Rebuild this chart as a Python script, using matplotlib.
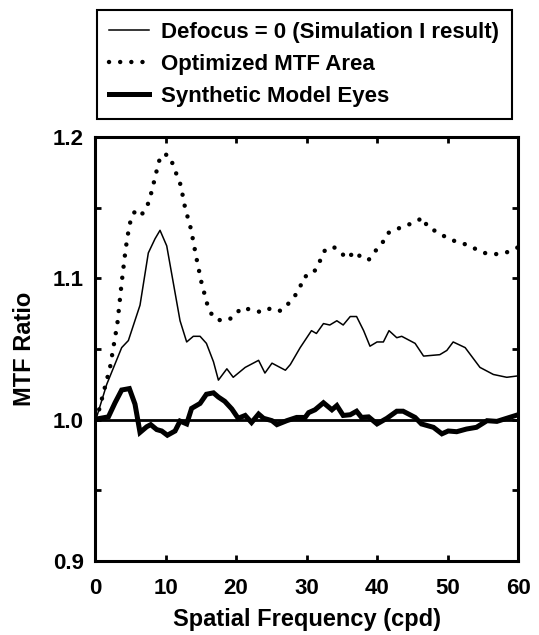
import numpy as np
import matplotlib
matplotlib.use("Agg")
import matplotlib.pyplot as plt
from matplotlib.ticker import MultipleLocator

plt.rcParams['font.family'] = ['Liberation Sans', 'DejaVu Sans']
plt.rcParams['font.weight'] = 'bold'

# Defocus = 0 (Simulation I result)
freq_defocus = [0.0, 0.24, 1.66, 3.78, 4.73, 6.38, 7.56, 8.51, 9.22, 10.17, 12.06, 13.0, 13.94, 14.9,
                15.8, 16.8, 17.5, 18.7, 19.6, 21.3, 23.2, 24.1, 25.1, 27.0, 27.7, 29.1, 30.7,
                31.4, 32.4, 33.3, 34.3, 35.2, 36.2, 37.1, 38.1, 39.0, 40.0, 40.9, 41.7, 42.8,
                43.5, 45.4, 46.6, 48.9, 49.9, 50.8, 52.5, 54.6, 56.5, 58.4, 60.0]
mtf_defocus = [1.0, 1.002, 1.025, 1.051, 1.056, 1.081, 1.118, 1.128, 1.134, 1.123, 1.070, 1.055, 1.059, 1.059,
               1.054, 1.041, 1.028, 1.036, 1.030, 1.037, 1.042, 1.033, 1.040, 1.035, 1.039, 1.051, 1.063,
               1.061, 1.068, 1.067, 1.070, 1.067, 1.073, 1.073, 1.063, 1.052, 1.055, 1.055, 1.063, 1.058,
               1.059, 1.054, 1.045, 1.046, 1.049, 1.055, 1.051, 1.037, 1.032, 1.030, 1.031]

# Optimized MTF Area
freq_optim = [0.0, 0.47, 2.13, 3.17, 3.78, 4.35, 4.82, 5.2, 5.77, 6.6, 7.4, 7.9, 8.3, 8.65, 8.98, 9.6,
              10.5, 11.1, 11.6, 12.15, 12.77, 13.6, 14.4, 15.1, 15.9, 16.5, 17.3, 18.9, 19.9, 20.7,
              22.1, 23.6, 25.0, 26.3, 27.4, 28.4, 29.1, 29.6, 30.8, 31.7, 32.2, 32.8, 33.9, 34.75,
              35.7, 36.9, 37.7, 38.8, 39.7, 40.75, 41.5, 42.55, 43.7, 45.1, 46.5, 47.2, 48.5, 49.8,
              51.2, 52.6, 53.9, 55.2, 56.6, 58.2, 59.6, 60.0]
mtf_optim = [1.0, 1.005, 1.037, 1.068, 1.097, 1.121, 1.136, 1.144, 1.148, 1.145, 1.151, 1.159, 1.167, 1.174, 1.182, 1.188,
             1.187, 1.180, 1.173, 1.166, 1.150, 1.135, 1.114, 1.097, 1.082, 1.075, 1.0705, 1.0705, 1.074, 1.079,
             1.078, 1.076, 1.079, 1.077, 1.082, 1.088, 1.094, 1.101, 1.103, 1.109, 1.117, 1.121, 1.122, 1.119,
             1.114, 1.119, 1.115, 1.113, 1.119, 1.125, 1.132, 1.134, 1.137, 1.139, 1.143, 1.136, 1.133, 1.129,
             1.126, 1.124, 1.121, 1.118, 1.117, 1.118, 1.121, 1.122]

# Synthetic Model Eyes
freq_model = [0.0, 0.24, 1.9, 2.84, 3.78, 4.87, 5.67, 6.38, 7.33, 7.9, 8.75, 9.46, 10.26, 11.35, 12.06, 13.0,
              13.7, 14.9, 15.8, 16.8, 17.5, 18.4, 19.4, 20.3, 21.3, 22.2, 23.2, 23.9, 25.1, 25.8, 27.2,
              28.6, 29.8, 30.3, 31.2, 32.4, 33.6, 34.3, 35.2, 36.2, 37.1, 37.8, 38.8, 40.0, 41.4, 42.8,
              43.7, 45.4, 46.3, 48.0, 49.2, 50.1, 51.3, 52.7, 54.1, 55.6, 57.0, 58.4, 60.0]
mtf_model = [1.0, 1.0005, 1.002, 1.012, 1.021, 1.022, 1.011, 0.991, 0.995, 0.9965, 0.993, 0.992, 0.989, 0.992, 0.999, 0.997,
             1.008, 1.0115, 1.018, 1.019, 1.016, 1.013, 1.0076, 1.001, 1.003, 0.998, 1.004, 1.001, 0.9993, 0.9965, 0.9993,
             1.0016, 1.0016, 1.005, 1.007, 1.012, 1.007, 1.010, 1.003, 1.0035, 1.006, 1.0016, 1.002, 0.997, 1.001, 1.006,
             1.006, 1.0016, 0.997, 0.9946, 0.990, 0.992, 0.9915, 0.9934, 0.9946, 0.9993, 0.9988, 1.001, 1.0035]

fig = plt.figure(figsize=(5.39, 6.35), dpi=100)
ax = fig.add_axes([0.1763, 0.1165, 0.7848, 0.6677])

ax.axhline(1.0, color='black', lw=2.0, zorder=1)
l1, = ax.plot(freq_defocus, mtf_defocus, color='black', lw=1.1)
l2, = ax.plot(freq_optim, mtf_optim, color='black', lw=3.2, linestyle=(0, (0.01, 2.5)),
              dash_capstyle='round')
l3, = ax.plot(freq_model, mtf_model, color='black', lw=3.6, solid_joinstyle='miter')

ax.set_xlim(0, 60)
ax.set_ylim(0.9, 1.2)
ax.xaxis.set_major_locator(MultipleLocator(10))
ax.yaxis.set_major_locator(MultipleLocator(0.1))
ax.yaxis.set_minor_locator(MultipleLocator(0.05))
ax.tick_params(which='both', direction='in', top=True, right=True, width=2, labelsize=16)
ax.tick_params(which='major', length=4)
ax.tick_params(which='minor', length=4)
ax.tick_params(axis='x', pad=12)
ax.tick_params(axis='y', pad=8)
ax.yaxis.set_major_formatter(matplotlib.ticker.FormatStrFormatter('%.1f'))
for s in ax.spines.values():
    s.set_linewidth(2.2)

ax.set_xlabel('Spatial Frequency (cpd)', fontsize=17, fontweight='bold', labelpad=7)
ax.set_ylabel('MTF Ratio', fontsize=17, fontweight='bold', labelpad=12)

leg = fig.legend([l1, l2, l3],
                 ['Defocus = 0 (Simulation I result)', 'Optimized MTF Area', 'Synthetic Model Eyes'],
                 loc='upper left', bbox_to_anchor=(0.18, 0.985), borderaxespad=0,
                 fontsize=16, fancybox=False,
                 edgecolor='black', framealpha=1, handlelength=1.8, borderpad=0.55,
                 labelspacing=0.5, handletextpad=0.55)
leg.get_frame().set_linewidth(1.5)

fig.savefig('out.png', dpi=100)
